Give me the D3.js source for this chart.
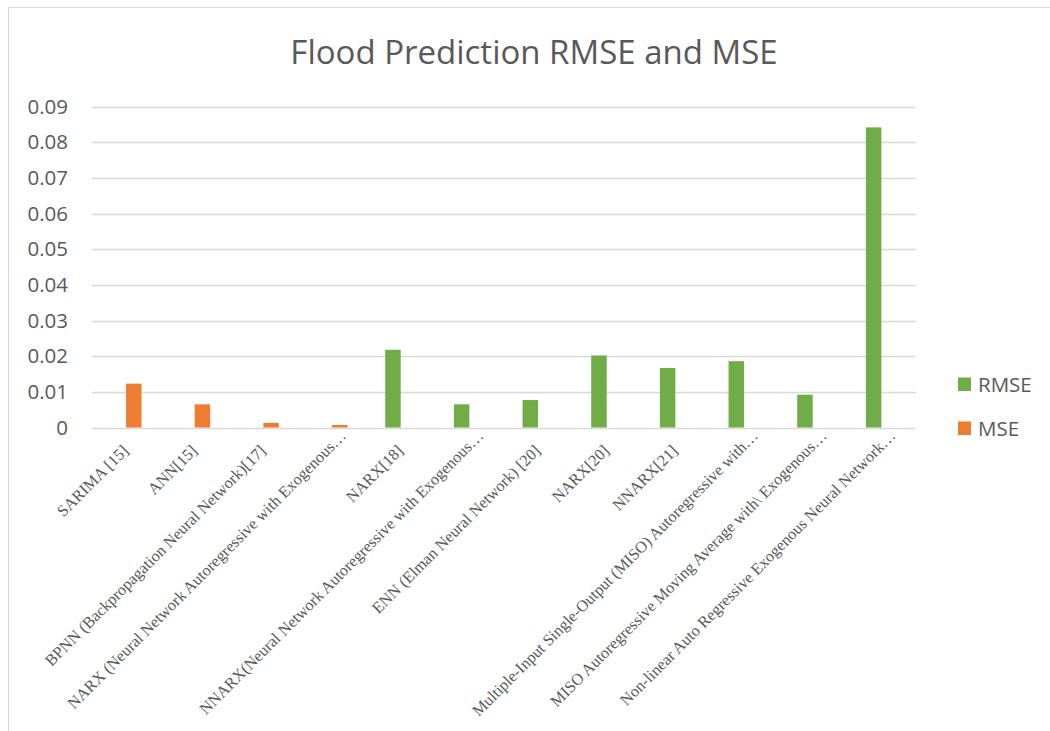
<!DOCTYPE html>
<html><head><meta charset="utf-8">
<script src="https://cdn.jsdelivr.net/npm/d3@7"></script>
<style>html,body{margin:0;padding:0;background:#fff;}</style>
</head><body><svg id="c" width="1050" height="731"></svg>
<script>
const categories = [
  "SARIMA [15]",
  "ANN[15]",
  "BPNN (Backpropagation Neural Network)[17]",
  "NARX (Neural Network Autoregressive with Exogenous…",
  "NARX[18]",
  "NNARX(Neural Network Autoregressive with Exogenous…",
  "ENN (Elman Neural Network) [20]",
  "NARX[20]",
  "NNARX[21]",
  "Multiple-Input Single-Output (MISO) Autoregressive with…",
  "MISO Autoregressive Moving Average with\\ Exogenous…",
  "Non-linear Auto Regressive Exogenous Neural Network…"
];
const seriesNames = ["RMSE", "MSE"];
const rmse = [null, null, null, null, 0.0218, 0.0065, 0.0077, 0.0202, 0.0167, 0.0186, 0.0092, 0.0842];
const mse  = [0.0123, 0.0065, 0.0013, 0.0007, null, null, null, null, null, null, null, null];
const yTicks = [0, 0.01, 0.02, 0.03, 0.04, 0.05, 0.06, 0.07, 0.08, 0.09];
const colors = ["#70AD47", "#ED7D31"];

const svg = d3.select("#c");
const L = 91.7, R = 915.7, T = 106.7, B = 427.5;

// frame
svg.append("rect").attr("x", 8.5).attr("y", 7.5).attr("width", 1100).attr("height", 800)
  .attr("fill", "none").attr("stroke", "#D9D9D9").attr("stroke-width", 1);

svg.append("text").attr("x", 534).attr("y", 63.5).attr("text-anchor", "middle")
  .attr("font-family", "Open Sans").attr("font-size", 33).attr("fill", "#595959")
  .text("Flood Prediction RMSE and MSE");

const y = d3.scaleLinear().domain([0, 0.09]).range([B, T]);
const x0 = d3.scaleBand().domain(categories).range([L, R]).paddingInner(0.549).paddingOuter(0.2745);
const x1 = d3.scaleBand().domain(seriesNames).range([0, x0.bandwidth()]);

// gridlines
svg.append("g").selectAll("line").data(yTicks).join("line")
  .attr("x1", L).attr("x2", R).attr("y1", d => Math.round(y(d)) + 0.5).attr("y2", d => Math.round(y(d)) + 0.5)
  .attr("stroke", "#D9D9D9").attr("stroke-width", 1.3);

// y axis labels
const yAxis = d3.axisLeft(y).tickValues(yTicks).tickSize(0).tickPadding(0)
  .tickFormat(d => d === 0 ? "0" : d3.format(".2f")(d));
const ya = svg.append("g").attr("transform", `translate(68,0)`).call(yAxis);
ya.select(".domain").remove();
ya.selectAll("text").attr("font-family", "Open Sans").attr("font-size", 20.5).attr("fill", "#595959");

// bars
const data = categories.map((c, i) => ({c, vals: [rmse[i], mse[i]]}));
const g = svg.append("g").selectAll("g").data(data).join("g")
  .attr("transform", d => `translate(${x0(d.c)},0)`);
g.selectAll("rect").data(d => d.vals.map((v, j) => ({v, s: seriesNames[j], j})).filter(e => e.v != null))
  .join("rect")
  .attr("x", e => x1(e.s)).attr("width", x1.bandwidth())
  .attr("y", e => y(e.v)).attr("height", e => B - y(e.v))
  .attr("fill", e => colors[e.j]);

// x axis
const xAxis = d3.axisBottom(x0).tickSize(0).tickPadding(0);
const xa = svg.append("g").attr("transform", `translate(0,${B})`).call(xAxis);
xa.select(".domain").remove();
xa.selectAll("text")
  .attr("font-family", "Liberation Serif").attr("font-size", 16.2).attr("fill", "#595959")
  .attr("text-anchor", "end").attr("dy", "0.35em").attr("y", 0)
  .attr("transform", d => d.endsWith("…") ? "translate(11,5.2) rotate(-45)" : "translate(-0.7,20.2) rotate(-45)");

// legend
const lg = svg.append("g").selectAll("g").data(seriesNames).join("g")
  .attr("transform", (d, i) => `translate(958,${377.5 + i * 44})`);
lg.append("rect").attr("width", 13).attr("height", 13.5).attr("fill", (d, i) => colors[i]);
lg.append("text").attr("x", 20).attr("y", 7).attr("dy", "0.35em")
  .attr("font-family", "Open Sans").attr("font-size", 20.5).attr("fill", "#595959").text(d => d);
</script></body></html>
